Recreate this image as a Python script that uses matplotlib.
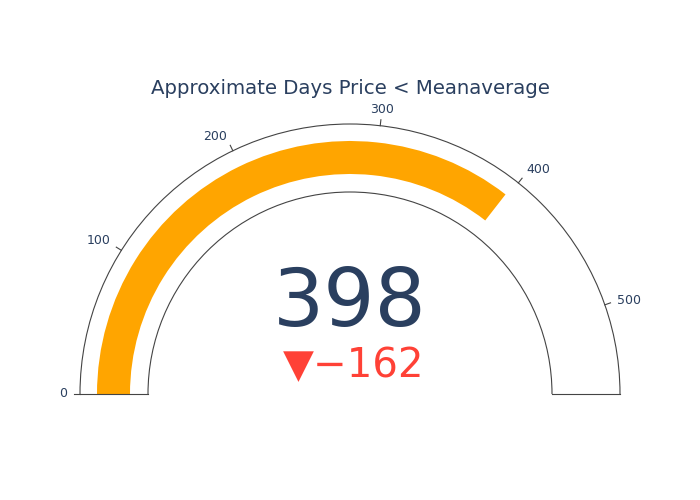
import matplotlib
matplotlib.use("Agg")
import matplotlib.pyplot as plt
from matplotlib.patches import Wedge, Arc
import numpy as np

title = "Approximate Days Price < Meanaverage"
value = 398
reference = 560
gauge_max = 560
ticks = [0, 100, 200, 300, 400, 500]

fig = plt.figure(figsize=(7, 5), dpi=100)
ax = fig.add_axes([0, 0, 1, 1])
ax.set_xlim(0, 700); ax.set_ylim(500, 0); ax.set_aspect("equal"); ax.axis("off")

cx, cy = 350, 394
r_out, r_in = 270, 202

def ang(v):
    return 180 - 180 * v / gauge_max

# outline (y inverted: upper half is theta 180..360)
ax.add_patch(Arc((cx, cy), 2*r_out, 2*r_out, theta1=180, theta2=360, color="#444", lw=0.8))
ax.add_patch(Arc((cx, cy), 2*r_in, 2*r_in, theta1=180, theta2=360, color="#444", lw=0.8))
ax.plot([cx-r_out, cx-r_in], [cy, cy], color="#444", lw=0.8)
ax.plot([cx+r_in, cx+r_out], [cy, cy], color="#444", lw=0.8)

a_end = ang(value)
ax.add_patch(Wedge((cx, cy), 253, -180, -a_end, width=33, color="#FFA500", lw=0))

for t in ticks:
    a = np.deg2rad(ang(t))
    c, s = np.cos(a), np.sin(a)
    ax.plot([cx + r_out*c, cx + (r_out+6)*c], [cy - r_out*s, cy - (r_out+6)*s], color="#444", lw=0.8)
    rl = r_out + 13
    ha = "right" if c < -0.3 else ("left" if c > 0.3 else "center")
    ax.text(cx + rl*c, cy - rl*s - (3 if abs(c) < 0.9 else 0), str(t), ha=ha, va="center",
            fontsize=9, color="#2a3f5f")

ax.text(350, 89, title, ha="center", va="center", fontsize=14.2, color="#2a3f5f")
ax.text(350, 304, str(value), ha="center", va="center", fontsize=58, color="#2a3f5f")
ax.text(354, 366, "▼\u2212%d" % (reference - value), ha="center", va="center", fontsize=29, color="#FF4136")

fig.savefig("out.png", dpi=100)
